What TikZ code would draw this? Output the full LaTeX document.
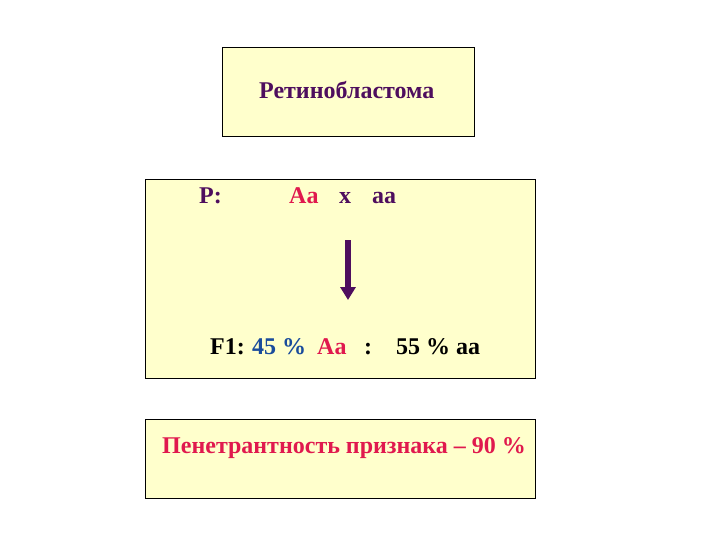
\documentclass[tikz,border=0pt]{standalone}
\usepackage{fontspec}
\setmainfont{Liberation Serif}
\usetikzlibrary{arrows.meta}
\definecolor{boxfill}{HTML}{FFFFCC}
\definecolor{purp}{HTML}{4E0E5E}
\definecolor{crim}{HTML}{E0194E}
\definecolor{blu}{HTML}{1A4C9C}
\tikzset{
  panel/.style={draw=black, line width=1pt, fill=boxfill},
  txt/.style={anchor=base west, inner sep=0pt, font=\bfseries\fontsize{#1}{#1}\selectfont},
  txt/.default=24
}
\begin{document}
\begin{tikzpicture}[x=1pt,y=-1pt]
\useasboundingbox (0,0) rectangle (720,540);
\draw[panel] (222,48) rectangle (474,137);
\draw[panel] (145,180) rectangle (535,378);
\draw[panel] (145,419) rectangle (535,498);
\node[txt=24, text=purp] (title) at (259,99) {Ретинобластома};
\node[txt, text=purp] (p) at (199,204) {P:};
\node[txt, text=crim] (aa1) at (289,204) {Aa};
\node[txt, text=purp] (x) at (339,204) {x};
\node[txt, text=purp] (aa2) at (372,204) {aa};
\node[txt] (f1) at (210,354) {F1:};
\node[txt, text=blu] (p45) at (252,354) {45 \%};
\node[txt, text=crim] (aa3) at (317,354) {Aa};
\node[txt] (col) at (364,354) {:};
\node[txt] (p55) at (396,354) {55 \% aa};
\node[txt=24, text=crim] (pen) at (162,453) {Пенетрантность признака – 90 \%};
\coordinate (atop) at (348,240);
\coordinate (abot) at (348,300);
\draw[purp, line width=5.5pt, -{Triangle[width=15pt,length=13pt]}] (atop) -- (abot);
\end{tikzpicture}
\end{document}
